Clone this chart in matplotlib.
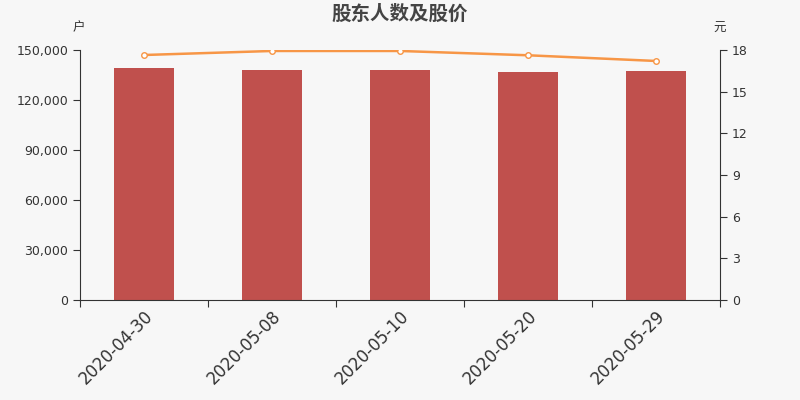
import matplotlib.pyplot as plt
from matplotlib.ticker import FuncFormatter, FixedLocator
import numpy as np

plt.rcParams['font.family'] = ['DejaVu Sans', 'Noto Sans CJK SC']

# Data
dates = ['2020-04-30', '2020-05-08', '2020-05-10', '2020-05-20', '2020-05-29']
holders = [139000, 137800, 137800, 136800, 137400]
price = [17.64, 17.93, 17.93, 17.62, 17.21]

bg = '#f7f7f7'
bar_color = '#c0504d'
line_color = '#f79646'
axis_color = '#333333'

fig = plt.figure(figsize=(8, 4), dpi=100, facecolor=bg)
ax = fig.add_axes([0.1, 0.25, 0.8, 0.625])
ax.set_facecolor(bg)

x = np.arange(len(dates))
ax.bar(x, holders, width=0.47, color=bar_color, zorder=2)
ax.set_xlim(-0.5, len(dates) - 0.5)
ax.set_ylim(0, 150000)
ax.set_yticks(np.arange(0, 150001, 30000))
ax.yaxis.set_major_formatter(FuncFormatter(lambda v, p: f'{int(v):,}'))

# category-edge ticks, labels at centers
ax.xaxis.set_major_locator(FixedLocator(np.arange(-0.5, len(dates), 1.0)))
ax.xaxis.set_major_formatter(FuncFormatter(lambda v, p: ''))
ax.xaxis.set_minor_locator(FixedLocator(x))
ax.set_xticklabels(dates, minor=True, rotation=45, ha='right', va='top',
                   rotation_mode='anchor', fontsize=12, color=axis_color)
ax.tick_params(axis='x', which='minor', length=0, pad=5)
ax.tick_params(axis='x', which='major', length=5, color=axis_color)
ax.tick_params(axis='y', length=5, color=axis_color, labelcolor=axis_color, labelsize=9)

for s in ['top', 'right']:
    ax.spines[s].set_visible(False)
for s in ['left', 'bottom']:
    ax.spines[s].set_color(axis_color)

ax2 = ax.twinx()
ax2.plot(x, price, color=line_color, linewidth=1.8, marker='o', markersize=4,
         markerfacecolor='white', markeredgecolor=line_color, markeredgewidth=1, zorder=3)
ax2.set_ylim(0, 18)
ax2.set_yticks(np.arange(0, 19, 3))
ax2.tick_params(axis='y', length=5, color=axis_color, labelcolor=axis_color, labelsize=9)
for s in ['top', 'left', 'bottom']:
    ax2.spines[s].set_visible(False)
ax2.spines['right'].set_color(axis_color)

fig.text(0.5, 0.965, '股东人数及股价', ha='center', va='center', fontsize=14,
         fontweight='bold', color='#444444', family=['Noto Sans CJK SC'])
fig.text(0.098, 0.93, '户', ha='center', va='center', fontsize=9, color=axis_color,
         family=['Noto Sans CJK SC'])
fig.text(0.899, 0.93, '元', ha='center', va='center', fontsize=9, color=axis_color,
         family=['Noto Sans CJK SC'])

fig.savefig('out.png', dpi=100, facecolor=bg)
